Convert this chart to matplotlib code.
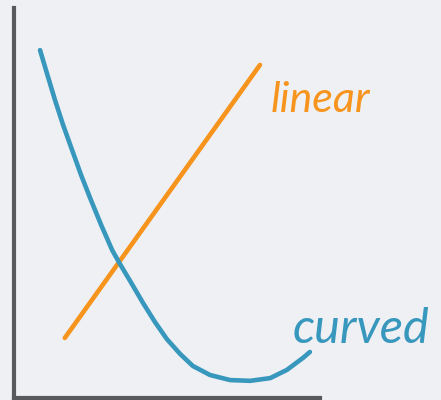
import matplotlib
matplotlib.use("Agg")
import matplotlib.pyplot as plt

# data (arbitrary 0-10 units)
linear_x = [1.19, 5.76]
linear_y = [1.54, 8.54]

curved_x = [0.61, 0.77, 0.96, 1.15, 1.36, 1.57, 1.80, 2.04, 2.30, 2.48, 2.72, 3.02,
            3.30, 3.58, 3.89, 4.19, 4.59, 5.06, 5.53, 6.00, 6.39, 6.77, 6.93]
curved_y = [8.92, 8.33, 7.64, 7.00, 6.36, 5.72, 5.08, 4.44, 3.79, 3.44, 3.00, 2.44,
            1.95, 1.51, 1.13, 0.82, 0.59, 0.46, 0.44, 0.51, 0.72, 1.03, 1.18]

labels = ["linear", "curved"]
label_pos = [(6.0, 7.33), (6.53, 1.41)]

bg = "#eef0f3"
orange = "#f7941d"
blue = "#3797bd"
axis_col = "#58595b"

fig = plt.figure(figsize=(4.41, 4.0), dpi=100, facecolor=bg)
ax = fig.add_axes([14/441, 2/400, 1 - 14/441, 390/400])
ax.set_facecolor(bg)
ax.set_xlim(0, 10)
ax.set_ylim(0, 10)

ax.plot(linear_x, linear_y, color=orange, lw=3.3, solid_capstyle="round")
ax.plot(curved_x, curved_y, color=blue, lw=3.3, solid_capstyle="round", solid_joinstyle="round")

ax.text(label_pos[0][0], label_pos[0][1], labels[0], color=orange, fontsize=31,
        family="Lato", style="italic", va="baseline")
ax.text(label_pos[1][0], label_pos[1][1], labels[1], color=blue, fontsize=35,
        family="Lato", style="italic", va="baseline")

for s in ["top", "right"]:
    ax.spines[s].set_visible(False)
for s in ["left", "bottom"]:
    ax.spines[s].set_color(axis_col)
    ax.spines[s].set_linewidth(3)
ax.spines["bottom"].set_bounds(0, 7.17)
ax.set_xticks([])
ax.set_yticks([])

fig.savefig("out.png", dpi=100, facecolor=bg)
